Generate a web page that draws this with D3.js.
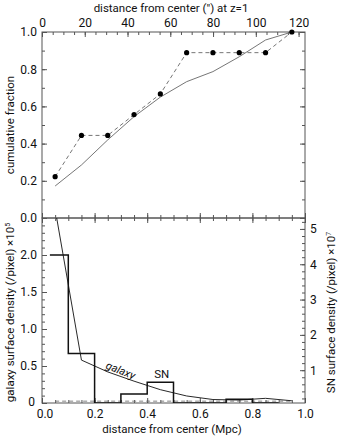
<!DOCTYPE html>
<html>
<head>
<meta charset="utf-8">
<script src="https://cdn.jsdelivr.net/npm/d3@7"></script>
<style>
    body { margin: 0; background: #fff; }
    svg { display: block; font-family: Roboto, sans-serif; }
    .tick text { font-size: 12px; fill: #111; font-family: Roboto, sans-serif; }
    .tick line { stroke: #555; }
    .domain { display: none; }
    .title { font-size: 11.5px; fill: #111; }
</style>
</head>
<body>
<svg id="chart" width="340" height="438"></svg>
<script>
    // radius bins (Mpc)
    const radiusMid = [0.05, 0.15, 0.25, 0.35, 0.45, 0.55, 0.65, 0.75, 0.85, 0.95];
    const snCumulative = [0.222, 0.444, 0.444, 0.556, 0.667, 0.889, 0.889, 0.889, 0.889, 1.0];
    const galaxyCumulative = [0.172, 0.285, 0.42, 0.545, 0.65, 0.733, 0.787, 0.867, 0.957, 1.0];
    const galaxyDensity = [2.62, 0.58, 0.42, 0.295, 0.18, 0.095, 0.047, 0.04, 0.063, 0.03];

    // SN histogram, step edges and heights (drawn on the left axis units)
    const snEdges = [0.03, 0.1, 0.2, 0.3, 0.4, 0.5, 0.6, 0.7, 0.8, 0.9];
    const snDensity = [2.0, 0.67, 0, 0.12, 0.28, 0, 0, 0.05, 0, 0];
    const backgroundLevel = 0.025;
    const backgroundRange = [0.05, 0.95];

    const mpcTicks = [0, 0.2, 0.4, 0.6, 0.8, 1.0];
    const arcsecTicks = [0, 20, 40, 60, 80, 100, 120];
    const fracTicks = [0, 0.2, 0.4, 0.6, 0.8, 1.0];
    const galTicks = [0, 0.5, 1.0, 1.5, 2.0];
    const snTicks = [1, 2, 3, 4, 5];

    const svg = d3.select("#chart");
    const left = 42, right = 305;
    const top1 = 32, sep = 218, bottom = 403;

    const x = d3.scaleLinear().domain([0, 1]).range([left, right]);
    const xArc = d3.scaleLinear().domain([0, 123]).range([left, right]);
    const yFrac = d3.scaleLinear().domain([0, 1]).range([sep, top1]);
    const yGal = d3.scaleLinear().domain([0, 2.5]).range([bottom, sep]);
    const ySN = d3.scaleLinear().domain([0, 5.31]).range([405.5, sep]);

    function minorTicks(step, lo, hi) {
        return d3.range(Math.round(lo / step), Math.round(hi / step) + 1).map(i => +(i * step).toFixed(4));
    }

    // axes helper: major with labels, minor without
    function addAxis(axisFn, scale, majors, minors, fmt, transform, pad) {
        svg.append("g").attr("transform", transform)
            .call(axisFn(scale).tickValues(minors).tickSize(-3).tickFormat(""));
        return svg.append("g").attr("transform", transform)
            .call(axisFn(scale).tickValues(majors).tickSize(-5).tickPadding(pad || 5)
                .tickFormat(fmt ? fmt : ""));
    }

    // top panel
    addAxis(d3.axisTop, xArc, arcsecTicks, minorTicks(5, 0, 120), d3.format("d"), `translate(0,${top1})`, 5);
    addAxis(d3.axisBottom, x, mpcTicks, minorTicks(0.05, 0, 1), null, `translate(0,${sep})`);
    addAxis(d3.axisLeft, yFrac, fracTicks, minorTicks(0.1, 0, 1), d3.format(".1f"), `translate(${left},0)`, 5);
    addAxis(d3.axisRight, yFrac, fracTicks, minorTicks(0.1, 0, 1), null, `translate(${right},0)`);

    // bottom panel
    const xBottom = addAxis(d3.axisBottom, x, mpcTicks, minorTicks(0.05, 0, 1), d3.format(".1f"), `translate(0,${bottom})`, 6);
    xBottom.selectAll(".tick text").filter(d => d === 0).attr("dx", 2.5);
    addAxis(d3.axisTop, x, mpcTicks, minorTicks(0.05, 0, 1), null, `translate(0,${sep})`);
    const yLeft = addAxis(d3.axisLeft, yGal, galTicks, minorTicks(0.1, 0, 2.5), d => d === 0 ? "0" : d3.format(".1f")(d), `translate(${left},0)`, 5);
    yLeft.selectAll(".tick text").filter(d => d === 0).attr("dx", -2).attr("dy", "0.2em");
    addAxis(d3.axisRight, ySN, snTicks, minorTicks(0.2, 0.2, 5.2), d3.format("d"), `translate(${right},0)`, 5);

    // frames
    svg.append("rect").attr("x", left).attr("y", top1).attr("width", right - left).attr("height", sep - top1)
        .attr("fill", "none").attr("stroke", "#555").attr("stroke-width", 1);
    svg.append("rect").attr("x", left).attr("y", sep).attr("width", right - left).attr("height", bottom - sep)
        .attr("fill", "none").attr("stroke", "#555").attr("stroke-width", 1);

    // clip for the bottom panel
    svg.append("clipPath").attr("id", "clipBottom")
        .append("rect").attr("x", left).attr("y", sep).attr("width", right - left).attr("height", bottom - sep);

    // top panel lines
    const lineFrac = d3.line().x((d, i) => x(radiusMid[i])).y(d => yFrac(d));
    svg.append("path").datum(galaxyCumulative).attr("d", lineFrac)
        .attr("fill", "none").attr("stroke", "#666").attr("stroke-width", 0.9);
    svg.append("path").datum(snCumulative).attr("d", lineFrac)
        .attr("fill", "none").attr("stroke", "#666").attr("stroke-width", 0.9).attr("stroke-dasharray", "4,3");
    svg.selectAll("circle.sn").data(snCumulative).join("circle").attr("class", "sn")
        .attr("cx", (d, i) => x(radiusMid[i])).attr("cy", d => yFrac(d)).attr("r", 2.6).attr("fill", "#000");

    // bottom panel
    const gB = svg.append("g").attr("clip-path", "url(#clipBottom)");
    gB.append("path").datum(backgroundRange)
        .attr("d", d3.line().x(d => x(d)).y(() => yGal(backgroundLevel)))
        .attr("fill", "none").attr("stroke", "#777").attr("stroke-width", 0.9).attr("stroke-dasharray", "4,3");
    gB.append("path").datum(galaxyDensity)
        .attr("d", d3.line().x((d, i) => x(radiusMid[i])).y(d => yGal(d)))
        .attr("fill", "none").attr("stroke", "#111").attr("stroke-width", 0.9);
    gB.append("path").datum(snDensity)
        .attr("d", d3.line().curve(d3.curveStepAfter).x((d, i) => x(snEdges[i])).y(d => yGal(d)))
        .attr("fill", "none").attr("stroke", "#111").attr("stroke-width", 1.5);

    // labels in the plot
    svg.append("text").attr("font-size", 11).attr("fill", "#111").attr("font-style", "italic")
        .attr("transform", `translate(${x(0.24)},${yGal(0.47)}) rotate(22)`)
        .text("galaxy");
    svg.append("text").attr("font-size", 11.5).attr("fill", "#111").attr("text-anchor", "middle")
        .attr("x", x(0.455)).attr("y", yGal(0.34)).text("SN");

    // axis titles
    svg.append("text").attr("class", "title").attr("font-size", 12).attr("text-anchor", "middle")
        .attr("x", 171).attr("y", 12).text("distance from center (\") at z=1");
    svg.append("text").attr("class", "title").attr("text-anchor", "middle")
        .attr("x", 172).attr("y", 433).text("distance from center (Mpc)");
    svg.append("text").attr("class", "title").attr("text-anchor", "middle")
        .attr("transform", `translate(14,${(top1 + sep) / 2}) rotate(-90)`)
        .text("cumulative fraction");
    const t1 = svg.append("text").attr("class", "title").attr("text-anchor", "middle")
        .attr("transform", `translate(14,${(sep + bottom) / 2 + 2}) rotate(-90)`);
    t1.append("tspan").text("galaxy surface density (/pixel) \u00d710");
    t1.append("tspan").attr("font-size", 7).attr("dy", -4).text("5");
    const t2 = svg.append("text").attr("class", "title").attr("text-anchor", "middle")
        .attr("transform", `translate(335,${(sep + bottom) / 2 + 2}) rotate(-90)`);
    t2.append("tspan").text("SN surface density (/pixel) \u00d710");
    t2.append("tspan").attr("font-size", 7).attr("dy", -4).text("7");
</script>
</body>
</html>
